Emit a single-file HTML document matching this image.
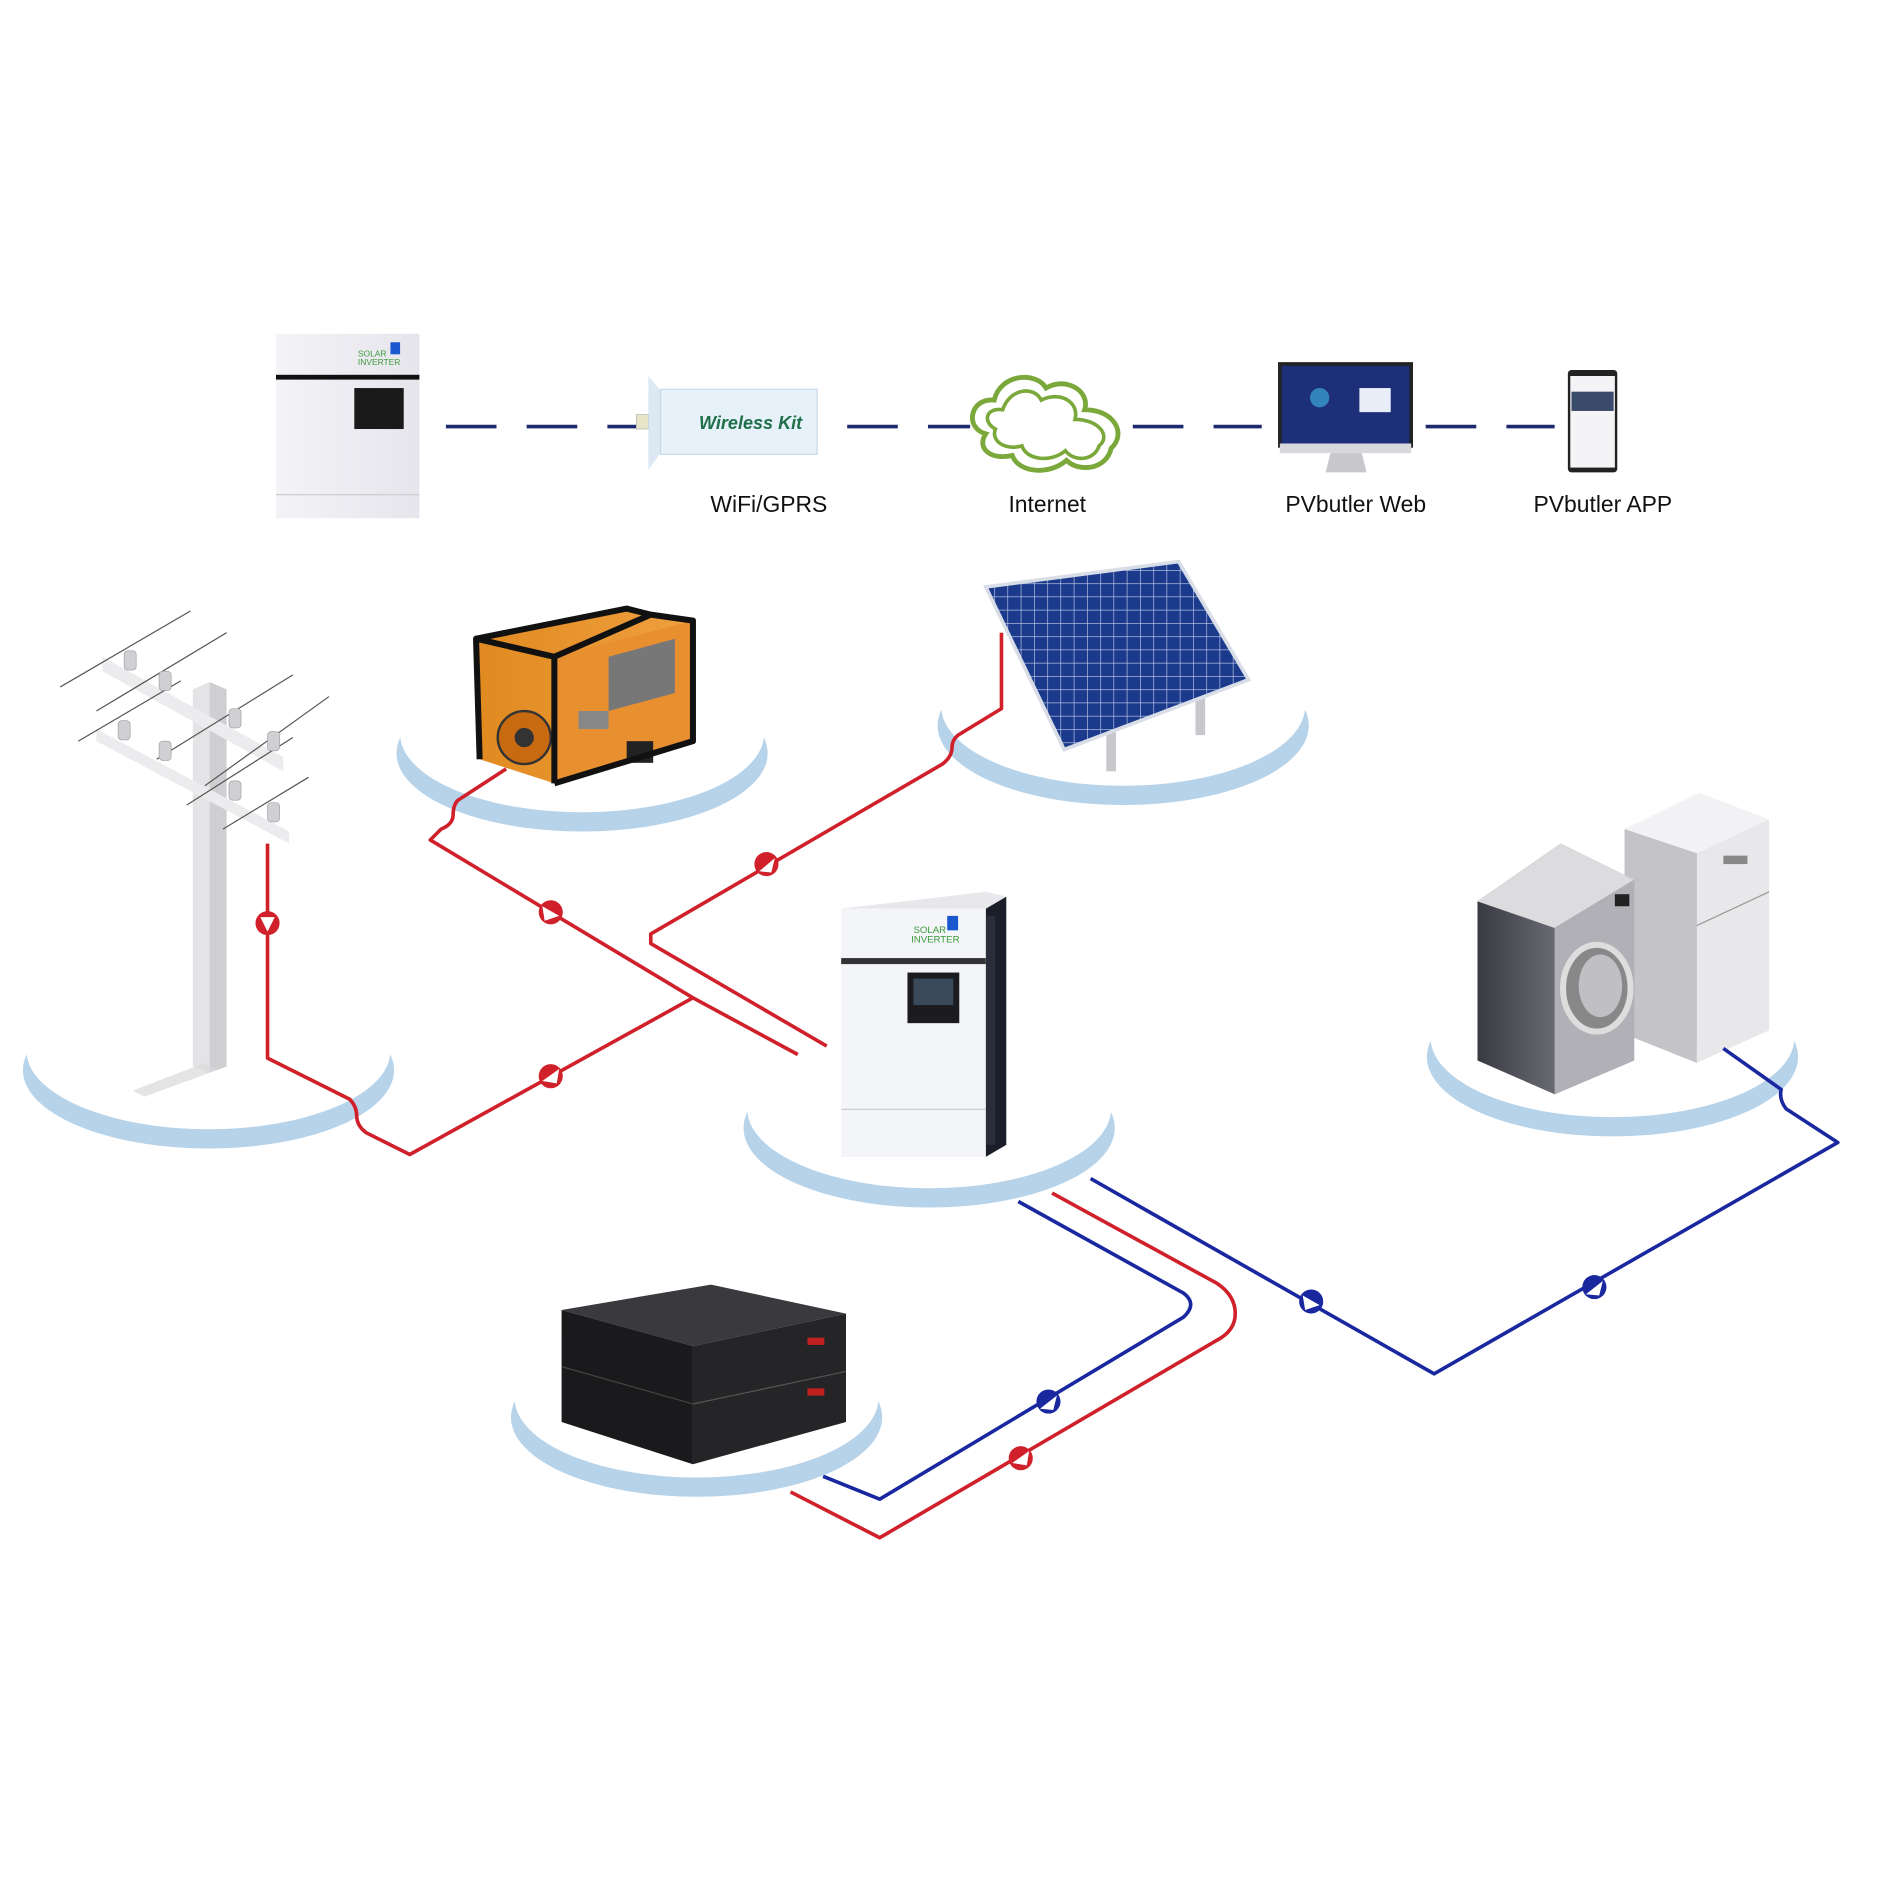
<!DOCTYPE html>
<html><head><meta charset="utf-8"><style>
html,body{margin:0;padding:0;background:#fff;}
svg{display:block;}
text{font-family:"Liberation Sans",sans-serif;}
</style></head><body>
<svg width="1880" height="1880" viewBox="0 0 1560 1560" xmlns="http://www.w3.org/2000/svg">
<defs>
<linearGradient id="inv" x1="0" x2="1"><stop offset="0" stop-color="#f4f3f7"/><stop offset="1" stop-color="#e6e5ec"/></linearGradient>
<linearGradient id="wash" x1="0" x2="1"><stop offset="0" stop-color="#3a3a42"/><stop offset="1" stop-color="#9a9aa2"/></linearGradient>
<linearGradient id="orange" x1="0" x2="1"><stop offset="0" stop-color="#e08a20"/><stop offset="1" stop-color="#f0a040"/></linearGradient>
<pattern id="cells" width="11" height="11" patternUnits="userSpaceOnUse"><rect width="11" height="11" fill="#1b3a8c"/><path d="M0 0H11M0 0V11" stroke="#c8d4ec" stroke-width="1"/></pattern>
</defs>

<!-- top row -->
<rect x="229" y="277" width="119" height="153" fill="url(#inv)"/>
<rect x="229" y="311" width="119" height="4" fill="#111"/>
<rect x="294" y="322" width="41" height="34" fill="#1a1a1a"/>
<rect x="229" y="410" width="119" height="1" fill="#ccc"/>
<text x="297" y="296" font-size="7" fill="#3a9a3a">SOLAR</text><text x="297" y="303" font-size="7" fill="#3a9a3a">INVERTER</text>
<rect x="324" y="284" width="8" height="10" fill="#1b58d0"/>

<g stroke="#1e2a6e" stroke-width="3" stroke-dasharray="42,25">
<line x1="370" y1="354" x2="535" y2="354"/>
<line x1="703" y1="354" x2="805" y2="354"/>
<line x1="940" y1="354" x2="1047" y2="354"/>
<line x1="1183" y1="354" x2="1290" y2="354"/>
</g>

<rect x="528" y="344" width="10" height="12" fill="#e8e4c8" stroke="#aaa" stroke-width="0.5"/>
<path d="M538 312 L548 324 L548 376 L538 390 Z" fill="#dce9f4"/>
<rect x="548" y="323" width="130" height="54" fill="#e6f1f9" stroke="#c8d8e8"/>
<text x="580" y="356" font-size="15" font-style="italic" font-weight="bold" fill="#1f6f4a" font-family="Liberation Serif">Wireless Kit</text>

<g fill="none" stroke="#7aa83a" stroke-width="4">
<path d="M818 360 C800 355 805 330 825 332 C830 310 860 308 868 322 C885 312 905 325 900 340 C925 340 935 360 922 372 C918 390 895 392 885 382 C870 395 845 392 840 378 C822 382 810 372 818 360 Z"/>
<path d="M826 356 C815 350 818 338 832 340 C838 322 858 320 864 332 C880 324 896 334 892 348 C912 348 922 362 912 370 C908 382 892 384 884 374 C872 384 852 382 848 370 C834 374 822 366 826 356 Z" stroke-width="3"/>
</g>

<rect x="1062" y="302" width="109" height="68" fill="#1e2f7a" stroke="#222" stroke-width="3"/>
<rect x="1062" y="368" width="109" height="8" fill="#d8d8dc"/>
<path d="M1104 376 H1130 L1134 392 H1100 Z" fill="#c8c8cc"/>
<rect x="1128" y="322" width="26" height="20" fill="#e8eef8"/>
<circle cx="1095" cy="330" r="8" fill="#3aa8d8" opacity="0.7"/>

<rect x="1301" y="307" width="41" height="85" rx="3" fill="#222"/>
<rect x="1303" y="312" width="37" height="76" fill="#f4f4f6"/>
<rect x="1304" y="325" width="35" height="16" fill="#3a4a6a"/>

<g font-size="19" fill="#111" text-anchor="middle">
<text x="638" y="425">WiFi/GPRS</text>
<text x="869" y="425">Internet</text>
<text x="1125" y="425">PVbutler Web</text>
<text x="1330" y="425">PVbutler APP</text>
</g>

<!-- platforms -->
<g fill="#b7d3ea">
<ellipse cx="173" cy="888" rx="154" ry="65"/>
<ellipse cx="483" cy="625" rx="154" ry="65"/>
<ellipse cx="932" cy="602" rx="154" ry="66"/>
<ellipse cx="771" cy="936" rx="154" ry="66"/>
<ellipse cx="1338" cy="877" rx="154" ry="66"/>
<ellipse cx="578" cy="1176" rx="154" ry="66"/>
</g>
<g fill="#fff">
<ellipse cx="173" cy="872" rx="151" ry="65"/>
<ellipse cx="483" cy="609" rx="151" ry="65"/>
<ellipse cx="932" cy="586" rx="151" ry="66"/>
<ellipse cx="771" cy="920" rx="151" ry="66"/>
<ellipse cx="1338" cy="861" rx="151" ry="66"/>
<ellipse cx="578" cy="1160" rx="151" ry="66"/>
</g>

<!-- pole -->
<g>
<path d="M160 572 L174 566 L188 572 L188 885 L174 890 L160 885 Z" fill="#e4e4e6"/>
<path d="M174 566 L188 572 L188 885 L174 890 Z" fill="#cfcfd2"/>
<path d="M110 905 L170 882 L180 888 L120 910 Z" fill="#d8d8da" opacity="0.7"/>
<path d="M85 545 L235 628 L235 640 L85 557 Z" fill="#ececee"/>
<path d="M80 605 L240 690 L240 700 L80 615 Z" fill="#ececee"/>
<g stroke="#555" stroke-width="1">
<line x1="50" y1="570" x2="158" y2="507"/><line x1="80" y1="590" x2="188" y2="525"/>
<line x1="65" y1="615" x2="150" y2="565"/><line x1="130" y1="630" x2="243" y2="560"/>
<line x1="170" y1="652" x2="273" y2="578"/><line x1="155" y1="668" x2="243" y2="612"/><line x1="185" y1="688" x2="256" y2="645"/>
</g>
<g fill="#d0d0d4" stroke="#999" stroke-width="0.5">
<rect x="103" y="540" width="10" height="16" rx="3"/><rect x="132" y="557" width="10" height="16" rx="3"/>
<rect x="98" y="598" width="10" height="16" rx="3"/><rect x="132" y="615" width="10" height="16" rx="3"/>
<rect x="190" y="588" width="10" height="16" rx="3"/><rect x="222" y="607" width="10" height="16" rx="3"/>
<rect x="190" y="648" width="10" height="16" rx="3"/><rect x="222" y="666" width="10" height="16" rx="3"/>
</g>
</g>

<!-- generator -->
<g>
<path d="M395 530 L520 505 L575 515 L575 615 L460 650 L398 630 Z" fill="url(#orange)"/>
<path d="M460 545 L575 515 L575 615 L460 650 Z" fill="#e89030"/>
<path d="M505 545 L560 530 L560 575 L505 590 Z" fill="#777"/>
<circle cx="435" cy="612" r="22" fill="#c86a10" stroke="#333" stroke-width="2"/>
<circle cx="435" cy="612" r="8" fill="#333"/>
<rect x="480" y="590" width="25" height="15" fill="#888"/>
<rect x="520" y="615" width="22" height="18" fill="#222"/>
<g fill="none" stroke="#111" stroke-width="5" stroke-linejoin="round">
<path d="M398 630 L395 530 L460 545 L460 650"/>
<path d="M460 545 L540 510 L575 515 L575 615 L460 650"/>
<path d="M395 530 L520 505 L540 510"/>
</g>
</g>

<!-- solar panel -->
<rect x="918" y="600" width="8" height="40" fill="#c8c8cc"/>
<rect x="992" y="575" width="8" height="35" fill="#c8c8cc"/>
<path d="M818 487 L978 466 L1036 564 L883 622 Z" fill="url(#cells)" stroke="#d8dde8" stroke-width="3"/>

<!-- inverter -->
<path d="M818 754 L835 744 L835 950 L818 960 Z" fill="#1a1e28"/>
<rect x="818" y="760" width="8" height="190" fill="#2a2e3a"/>
<rect x="698" y="754" width="120" height="206" fill="#f4f5f8"/>
<path d="M698 754 L818 740 L835 744 L818 754 Z" fill="#e8e8ec"/>
<rect x="698" y="795" width="120" height="5" fill="#333"/>
<rect x="753" y="807" width="43" height="42" fill="#1c1c20"/>
<rect x="758" y="812" width="33" height="22" fill="#3a4a5a"/>
<text x="758" y="774" font-size="8" fill="#3a9a3a">SOLAR</text><text x="756" y="782" font-size="8" fill="#3a9a3a">INVERTER</text>
<rect x="786" y="760" width="9" height="12" fill="#1b58d0"/>
<rect x="698" y="920" width="120" height="1" fill="#ccc"/>

<!-- washer & fridge -->
<path d="M1348 688 L1410 658 L1468 680 L1468 855 L1408 882 L1348 858 Z" fill="#e8e8ea"/>
<path d="M1348 688 L1410 658 L1468 680 L1408 708 Z" fill="#f2f2f4"/>
<path d="M1348 688 L1408 708 L1408 882 L1348 858 Z" fill="#c4c4c8"/>
<line x1="1408" y1="768" x2="1468" y2="740" stroke="#999"/>
<rect x="1430" y="710" width="20" height="7" fill="#888"/>
<path d="M1226 748 L1295 700 L1356 730 L1356 880 L1290 908 L1226 880 Z" fill="url(#wash)"/>
<path d="M1226 748 L1295 700 L1356 730 L1290 770 Z" fill="#dcdcde"/>
<path d="M1290 770 L1356 730 L1356 880 L1290 908 Z" fill="#b0b0b6"/>
<ellipse cx="1325" cy="820" rx="28" ry="36" fill="#888" stroke="#ddd" stroke-width="5"/>
<ellipse cx="1328" cy="818" rx="18" ry="26" fill="#c0c0c4"/>
<rect x="1340" y="742" width="12" height="10" fill="#222"/>

<!-- battery -->
<path d="M466 1087 L590 1066 L702 1090 L575 1117 Z" fill="#3a3a3e"/>
<path d="M466 1087 L575 1117 L575 1215 L466 1180 Z" fill="#1a1a1c"/>
<path d="M575 1117 L702 1090 L702 1180 L575 1215 Z" fill="#252528"/>
<line x1="575" y1="1165" x2="702" y2="1138" stroke="#555"/>
<line x1="466" y1="1134" x2="575" y2="1165" stroke="#444"/>
<rect x="670" y="1110" width="14" height="6" fill="#c02020"/>
<rect x="670" y="1152" width="14" height="6" fill="#c02020"/>

<!-- red lines -->
<g fill="none" stroke="#d0202a" stroke-width="3" stroke-linejoin="round">
<path d="M222 700 V878 L290 912 Q296 918 296 926 Q296 934 304 940 L340 958 L575 828 L662 875"/>
<path d="M420 638 L380 664 Q376 668 376 676 Q376 684 366 688 L357 697 L575 828"/>
<path d="M831 525 V588 L795 610 Q790 614 790 620 Q790 628 782 634 L540 775 L540 783 L686 868"/>
<path d="M873 990 L1010 1065 Q1025 1075 1025 1090 Q1025 1104 1010 1112 L730 1276 L656 1238"/>
</g>
<!-- blue lines -->
<g fill="none" stroke="#1a28a0" stroke-width="3" stroke-linejoin="round">
<path d="M845 997 L982 1073 Q994 1082 982 1093 L730 1244 L683 1225"/>
<path d="M905 978 L1190 1140 L1525 948 L1482 920 Q1476 912 1478 904 L1430 870"/>
</g>
<!-- markers -->
<g>
<circle cx="222" cy="766" r="10" fill="#d0202a"/><path d="M216 761 L222 773 L228 761 Z" fill="#fff"/>
<circle cx="457" cy="757" r="10" fill="#d0202a"/><path d="M450 752 L464 760 L452 764 Z" fill="#fff"/>
<circle cx="636" cy="717" r="10" fill="#d0202a"/><path d="M630 723 L643 712 L640 724 Z" fill="#fff"/>
<circle cx="457" cy="893" r="10" fill="#d0202a"/><path d="M464 887 L450 897 L462 899 Z" fill="#fff"/>
<circle cx="847" cy="1210" r="10" fill="#d0202a"/><path d="M854 1204 L840 1214 L852 1216 Z" fill="#fff"/>
<circle cx="870" cy="1163" r="10" fill="#1a28a0"/><path d="M863 1169 L877 1158 L874 1170 Z" fill="#fff"/>
<circle cx="1088" cy="1080" r="10" fill="#1a28a0"/><path d="M1081 1075 L1095 1083 L1083 1087 Z" fill="#fff"/>
<circle cx="1323" cy="1068" r="10" fill="#1a28a0"/><path d="M1316 1074 L1330 1063 L1327 1075 Z" fill="#fff"/>
</g>
</svg>
</body></html>
